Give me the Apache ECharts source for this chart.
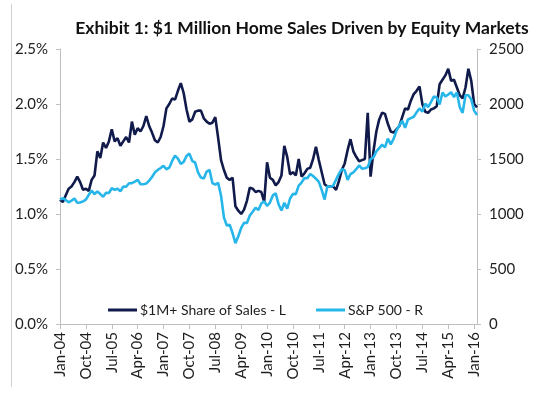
<!DOCTYPE html>
<html>
<head>
<meta charset="utf-8">
<script src="https://cdn.jsdelivr.net/npm/echarts@6/dist/echarts.min.js"></script>
<style>
  html, body { margin: 0; padding: 0; background: #fff; }
  #chart { width: 540px; height: 396px; }
</style>
</head>
<body>
<div id="chart"></div>
<script>
// monthly, Jan-04 .. Feb-16
const monthNames = ['Jan','Feb','Mar','Apr','May','Jun','Jul','Aug','Sep','Oct','Nov','Dec'];
const years = ['04','05','06','07','08','09','10','11','12','13','14','15','16'];
const lastYearMonths = 2;

const months = [];
years.forEach((y, yi) => {
  const n = yi === years.length - 1 ? lastYearMonths : 12;
  for (let m = 0; m < n; m++) months.push(monthNames[m] + '-' + y);
});

// $1M+ share of sales (%), left axis
const shareOfSales = [
  1.13, 1.11, 1.17, 1.23, 1.25, 1.29, 1.34, 1.29, 1.22, 1.23, 1.21, 1.31,
  1.35, 1.57, 1.51, 1.65, 1.60, 1.66, 1.77, 1.66, 1.69, 1.62, 1.66, 1.70,
  1.65, 1.84, 1.72, 1.78, 1.75, 1.80, 1.89, 1.80, 1.74, 1.67, 1.65, 1.70,
  1.80, 1.96, 2.00, 2.05, 2.04, 2.12, 2.19, 2.10, 1.95, 1.84, 1.86, 1.93,
  1.94, 1.94, 1.87, 1.84, 1.82, 1.83, 1.88, 1.69, 1.49, 1.40, 1.33, 1.31,
  1.33, 1.07, 1.03, 1.00, 1.04, 1.12, 1.24, 1.23, 1.20, 1.21, 1.20, 1.11,
  1.47, 1.33, 1.31, 1.26, 1.29, 1.35, 1.62, 1.52, 1.36, 1.38, 1.35, 1.50,
  1.34, 1.37, 1.41, 1.42, 1.50, 1.61, 1.49, 1.38, 1.27, 1.25, 1.25, 1.25,
  1.22, 1.30, 1.40, 1.46, 1.58, 1.68, 1.57, 1.52, 1.48, 1.49, 1.50, 1.92,
  1.34, 1.57, 1.75, 1.86, 1.92, 1.91, 1.82, 1.75, 1.74, 1.77, 1.80, 1.88,
  1.96, 1.95, 2.03, 2.09, 2.12, 2.16, 2.00, 1.93, 1.92, 1.95, 1.96, 1.98,
  2.18, 2.22, 2.26, 2.32, 2.21, 2.22, 2.15, 2.08, 2.05, 2.15, 2.32, 2.21,
  2.00, 1.97
];

// S&P 500, right axis
const sp500 = [
  1131, 1145, 1126, 1107, 1121, 1141, 1102, 1104, 1115, 1130, 1174, 1212,
  1181, 1204, 1181, 1157, 1192, 1191, 1234, 1220, 1229, 1207, 1249, 1248,
  1280, 1281, 1295, 1311, 1270, 1270, 1277, 1304, 1336, 1378, 1401, 1418,
  1438, 1407, 1421, 1482, 1531, 1503, 1455, 1474, 1527, 1549, 1481, 1468,
  1379, 1331, 1323, 1386, 1400, 1280, 1267, 1283, 1166, 969, 896, 903,
  826, 735, 798, 873, 919, 919, 987, 1021, 1057, 1036, 1096, 1115,
  1074, 1104, 1169, 1187, 1089, 1031, 1102, 1049, 1141, 1183, 1181, 1258,
  1286, 1327, 1326, 1364, 1345, 1321, 1292, 1219, 1131, 1253, 1247, 1258,
  1312, 1366, 1408, 1398, 1310, 1362, 1379, 1407, 1441, 1412, 1416, 1426,
  1498, 1515, 1569, 1598, 1631, 1606, 1686, 1633, 1682, 1757, 1806, 1848,
  1783, 1859, 1872, 1884, 1924, 1960, 1931, 2003, 1972, 2018, 2068, 2059,
  1995, 2105, 2068, 2086, 2107, 2063, 2104, 1972, 1920, 2079, 2080, 2044,
  1940, 1900
];

const seriesNames = ['$1M+ Share of Sales - L', 'S&P 500 - R'];
const navy = '#101a4b';
const sky = '#27b6ea';
const axisGrey = '#bfbfbf';
const textColor = '#1e1e1e';
const font = 'Lato, "Open Sans", sans-serif';

const chart = echarts.init(document.getElementById('chart'));
chart.setOption({
  animation: false,
  backgroundColor: '#fff',
  textStyle: { fontFamily: font },
  title: {
    text: 'Exhibit 1: $1 Million Home Sales Driven by Equity Markets',
    left: 297,
    textAlign: 'center',
    top: 14,
    textStyle: { fontFamily: font, fontSize: 17.5, fontWeight: 'bold', color: '#111' }
  },
  legend: {
    left: 103,
    top: 298,
    itemGap: 30,
    itemWidth: 29,
    itemHeight: 3,
    icon: 'rect',
    textStyle: { fontFamily: font, fontSize: 14, color: textColor, padding: [0, 0, 0, -2] },
    data: seriesNames
  },
  grid: { left: 60, right: 63, top: 49, bottom: 72 },
  xAxis: {
    type: 'category',
    data: months,
    boundaryGap: false,
    axisLine: { lineStyle: { color: axisGrey, width: 1 } },
    axisTick: { interval: 8, length: 5, lineStyle: { color: axisGrey } },
    axisLabel: {
      interval: 8, rotate: 90, margin: 8,
      fontFamily: font, fontSize: 15, color: textColor
    },
    splitLine: { show: false }
  },
  yAxis: [{
    type: 'value',
    min: 0, max: 2.5, interval: 0.5,
    axisLine: { show: true, lineStyle: { color: axisGrey } },
    axisTick: { show: true, length: 4, lineStyle: { color: axisGrey } },
    axisLabel: {
      margin: 12, fontFamily: font, fontSize: 15, color: textColor,
      formatter: v => v.toFixed(1) + '%'
    },
    splitLine: { show: false }
  }, {
    type: 'value',
    min: 0, max: 2500, interval: 500,
    axisLine: { show: true, lineStyle: { color: axisGrey } },
    axisTick: { show: true, length: 4, lineStyle: { color: axisGrey } },
    axisLabel: {
      margin: 12, fontFamily: font, fontSize: 15, color: textColor,
      formatter: v => String(v)
    },
    splitLine: { show: false }
  }],
  series: [{
    name: seriesNames[0],
    type: 'line',
    yAxisIndex: 0,
    data: shareOfSales,
    showSymbol: false,
    itemStyle: { color: navy },
    lineStyle: { color: navy, width: 2.6 }
  }, {
    name: seriesNames[1],
    type: 'line',
    yAxisIndex: 1,
    data: sp500,
    showSymbol: false,
    itemStyle: { color: sky },
    lineStyle: { color: sky, width: 2.6 }
  }],
  graphic: [{
    type: 'line',
    shape: { x1: 11.5, y1: 4, x2: 11.5, y2: 387 },
    style: { stroke: '#d0d0d0', lineWidth: 1 }
  }]
});
</script>
</body>
</html>
